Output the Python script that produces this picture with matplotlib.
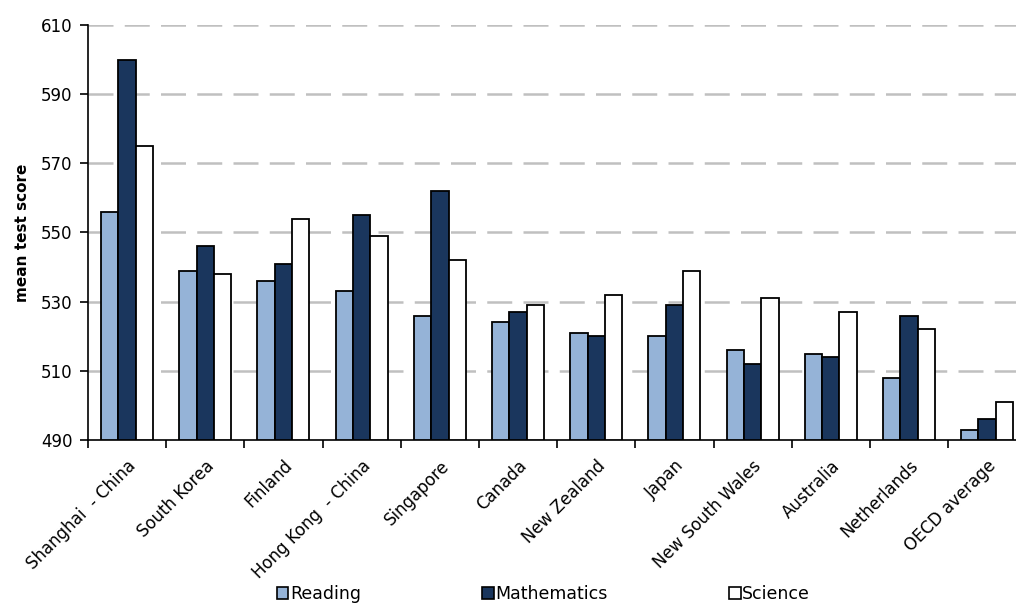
import numpy as np
import matplotlib
matplotlib.use("Agg")
import matplotlib.pyplot as plt
from matplotlib.patches import Patch

# PISA 2009 mean scores
countries = ["Shanghai  - China", "South Korea", "Finland", "Hong Kong  - China",
             "Singapore", "Canada", "New Zealand", "Japan", "New South Wales",
             "Australia", "Netherlands", "OECD average"]
reading = [556, 539, 536, 533, 526, 524, 521, 520, 516, 515, 508, 493]
maths = [600, 546, 541, 555, 562, 527, 520, 529, 512, 514, 526, 496]
science = [575, 538, 554, 549, 542, 529, 532, 539, 531, 527, 522, 501]

series = [("Reading", reading, "#95b3d7"),
          ("Mathematics", maths, "#1a365d"),
          ("Science", science, "#ffffff")]

plt.rcParams["font.family"] = "DejaVu Sans"

fig = plt.figure(figsize=(10.16, 6.08), dpi=100)
ax = fig.add_axes([0.0866, 0.2763, 0.9235, 0.6826])

x = np.arange(len(countries))
w = 0.222
for i, (name, vals, col) in enumerate(series):
    ax.bar(x + (i - 1) * w, np.array(vals) - 490, bottom=490, width=w,
           color=col, edgecolor="black", linewidth=1.3, zorder=3)

ax.set_xlim(-0.5, len(countries) - 0.5)
ax.set_ylim(490, 610)
ax.set_yticks(np.arange(490, 611, 20))
ax.tick_params(axis="y", labelsize=12, length=6, width=1.2, direction="out", pad=5)

ax.set_xticks(np.arange(len(countries) + 1) - 0.5, minor=False)
ax.set_xticklabels([])
ax.set_xticks(x, minor=True)
ax.set_xticklabels(countries, minor=True, rotation=45, ha="right",
                   rotation_mode="anchor", fontsize=12)
ax.tick_params(axis="x", which="major", length=6, width=1.2, direction="out")
ax.tick_params(axis="x", which="minor", length=0, pad=12)

for yv in range(510, 611, 20):
    ax.axhline(yv, color="#c0c0c0", linewidth=1.8, linestyle=(0, (10, 4.5)), zorder=1)

ax.spines["top"].set_visible(False)
ax.spines["right"].set_visible(False)
ax.spines["left"].set_linewidth(1.2)
ax.spines["bottom"].set_linewidth(1.2)

ax.set_ylabel("mean test score", fontsize=11, fontweight="bold", labelpad=8)

handles = [Patch(facecolor=c, edgecolor="black", linewidth=1.2, label=n) for n, _, c in series]
fig.legend(handles=handles, loc="lower center", bbox_to_anchor=(0.535, -0.018), ncol=3,
           frameon=False, fontsize=12.5, handlelength=0.65, handleheight=0.65,
           handletextpad=0.1, columnspacing=7.0)

fig.savefig("out.png", dpi=100)
